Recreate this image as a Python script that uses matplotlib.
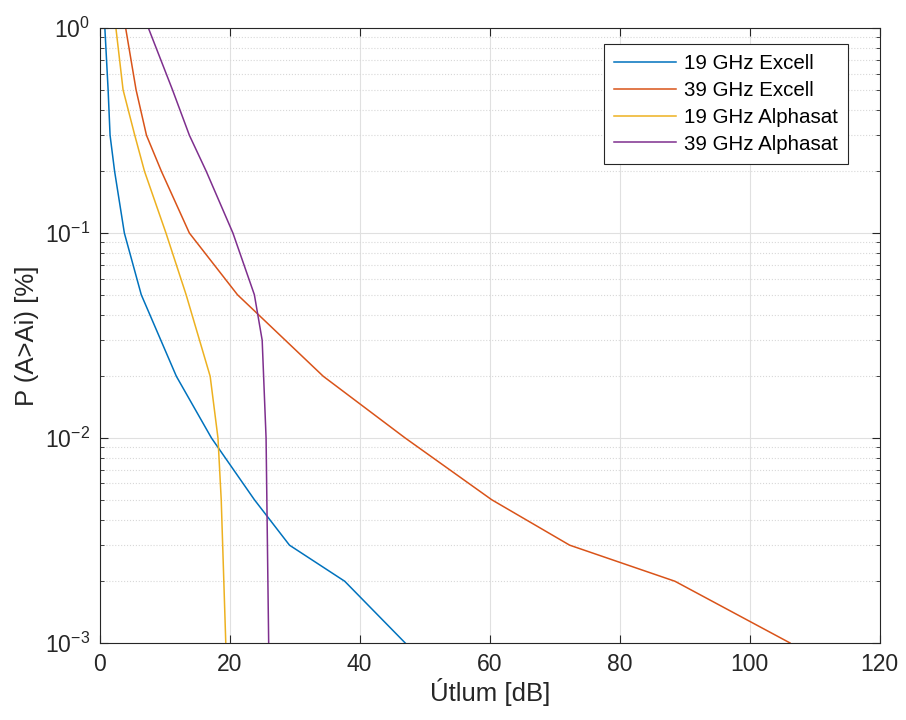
import numpy as np
import matplotlib.pyplot as plt

plt.rcParams['font.family'] = ['Liberation Sans', 'DejaVu Sans']
plt.rcParams['mathtext.fontset'] = 'custom'
plt.rcParams['mathtext.rm'] = 'Liberation Sans'

# P (A>Ai) [%] levels and attenuation [dB]
p_excell = [1, 0.5, 0.3, 0.2, 0.1, 0.05, 0.02, 0.01, 0.005, 0.003, 0.002, 0.001]
a19_excell = [0.8, 1.3, 1.6, 2.3, 3.8, 6.4, 11.8, 17.2, 23.8, 29.2, 37.7, 47.0]
p39_excell = [1, 0.5, 0.3, 0.2, 0.1, 0.05, 0.02, 0.01, 0.005, 0.003, 0.002, 0.001]
a39_excell = [4.0, 5.6, 7.2, 9.5, 13.8, 21.2, 34.4, 47.0, 60.3, 72.3, 88.5, 106.2]

p19_alpha = [1, 0.5, 0.3, 0.2, 0.1, 0.05, 0.02, 0.01, 0.005, 0.002, 0.001]
a19_alpha = [2.5, 3.6, 5.4, 6.9, 10.2, 13.3, 17.0, 18.2, 18.7, 19.1, 19.4]
p39_alpha = [1, 0.5, 0.3, 0.2, 0.1, 0.05, 0.03, 0.01, 0.001]
a39_alpha = [7.5, 11.2, 13.8, 16.4, 20.5, 23.8, 25.0, 25.6, 26.0]

fig = plt.figure(figsize=(9.06, 7.2), dpi=100)
ax = fig.add_axes([0.110, 0.107, 0.861, 0.854])

ax.plot(a19_excell, p_excell, color='#0072BD', lw=1.1, label='19 GHz Excell')
ax.plot(a39_excell, p39_excell, color='#D95319', lw=1.1, label='39 GHz Excell')
ax.plot(a19_alpha, p19_alpha, color='#EDB120', lw=1.1, label='19 GHz Alphasat')
ax.plot(a39_alpha, p39_alpha, color='#7E2F8E', lw=1.1, label='39 GHz Alphasat')

ax.set_yscale('log')
ax.set_xlim(0, 120)
ax.set_ylim(1e-3, 1)
ax.set_xticks(np.arange(0, 121, 20))
ax.grid(True, which='major', color='#e0e0e0', lw=0.8)
ax.grid(True, which='minor', axis='y', color='#d8d8d8', lw=0.8, ls=':')
ax.set_axisbelow(True)
ax.tick_params(which='both', direction='in', top=True, right=True, labelsize=16.5, colors='#262626')
ax.tick_params(which='major', length=6, pad=7)
ax.tick_params(which='minor', length=3)
for s in ax.spines.values():
    s.set_color('#262626')
    s.set_linewidth(0.8)

ax.set_xlabel('Útlum [dB]', fontsize=18.5, color='#262626', labelpad=2)
ax.set_ylabel('P (A>Ai) [%]', fontsize=18.5, color='#262626', labelpad=4)

leg = ax.legend(loc='upper right', bbox_to_anchor=(0.936, 0.939), bbox_transform=fig.transFigure,
                borderaxespad=0, fontsize=14.8, handlelength=3.0, fancybox=False,
                edgecolor='#262626', framealpha=1, borderpad=0.5, labelspacing=0.38,
                handletextpad=0.4)
leg.get_frame().set_linewidth(0.8)

fig.savefig('out.png', dpi=100)
